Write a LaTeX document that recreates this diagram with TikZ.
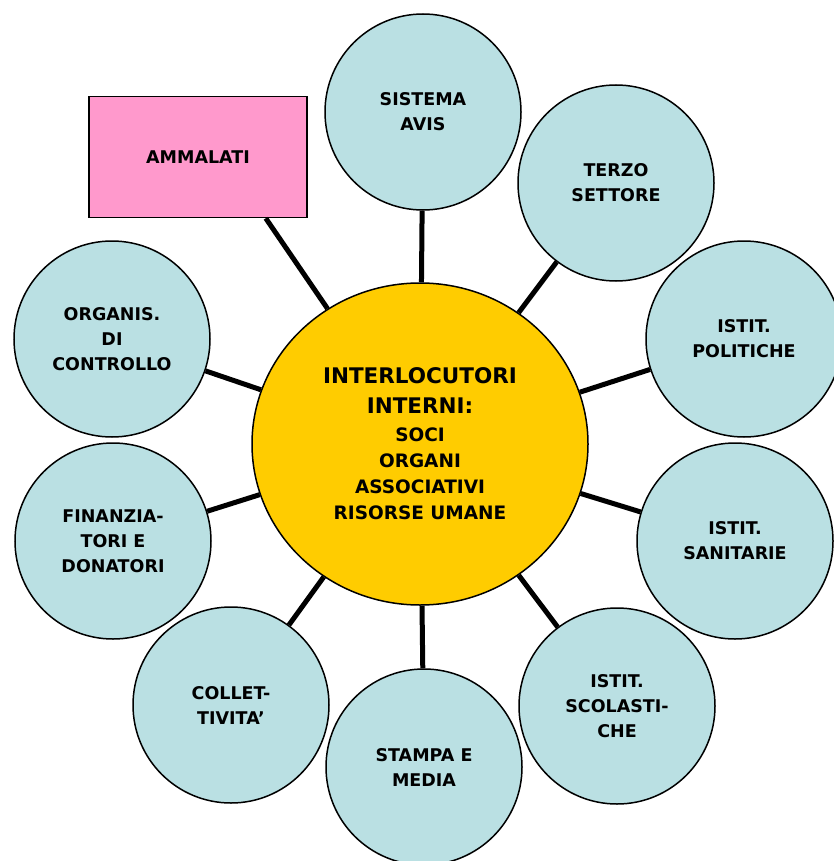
\documentclass[tikz,border=0pt]{standalone}
\usepackage{fontspec}
\setmainfont{DejaVu Sans}
\usepackage{tikz}
\usetikzlibrary{shapes.geometric}

\definecolor{outerblue}{RGB}{186,224,227}
\definecolor{coreyellow}{RGB}{255,204,0}
\definecolor{boxpink}{RGB}{255,153,204}

\begin{document}
\begin{tikzpicture}[x=1pt,y=-1pt,every edge/.style={draw,line width=5pt},
    outer node/.style={circle,draw,line width=1.5pt,fill=outerblue,minimum size=196pt,align=center,font=\fontsize{17.5}{25}\selectfont\bfseries},
    core node/.style={ellipse,draw,line width=1.5pt,fill=coreyellow,minimum width=336pt,minimum height=322pt,align=center,font=\fontsize{18.5}{26}\selectfont\bfseries},
    box node/.style={rectangle,draw,line width=1.5pt,fill=boxpink,minimum width=218pt,minimum height=121pt,font=\fontsize{17.5}{25}\selectfont\bfseries}]

  \useasboundingbox (0,0) rectangle (833,861);

  \node[core node]  (core)  at (420,444) {{\fontsize{21.5}{30}\selectfont INTERLOCUTORI}\\[4pt]
                                          {\fontsize{21.5}{30}\selectfont INTERNI:}\\[2pt]
                                          SOCI\\ORGANI\\ASSOCIATIVI\\RISORSE UMANE};
  \node[outer node] (avis)  at (423,112) {SISTEMA\\AVIS};
  \node[outer node] (terzo) at (616,183) {TERZO\\SETTORE};
  \node[outer node] (pol)   at (744,339) {ISTIT.\\POLITICHE};
  \node[outer node] (san)   at (735,541) {ISTIT.\\SANITARIE};
  \node[outer node] (scol)  at (617,706) {ISTIT.\\SCOLASTI-\\CHE};
  \node[outer node] (media) at (424,767) {STAMPA E\\MEDIA};
  \node[outer node] (coll)  at (231,705) {COLLET-\\TIVITA'};
  \node[outer node] (fin)   at (113,541) {FINANZIA-\\TORI E\\DONATORI};
  \node[outer node] (org)   at (112,339) {ORGANIS.\\DI\\CONTROLLO};
  \node[box node]   (amm)   at (198,157) {AMMALATI};
  \coordinate (ammfoot) at ([xshift=-42pt]amm.south east);

  \path (core) edge (avis)
        (core) edge (terzo)
        (core) edge (pol)
        (core) edge (san)
        (core) edge (scol)
        (core) edge (media)
        (core) edge (coll)
        (core) edge (fin)
        (core) edge (org)
        (core) edge (ammfoot)
        ;

\end{tikzpicture}
\end{document}
